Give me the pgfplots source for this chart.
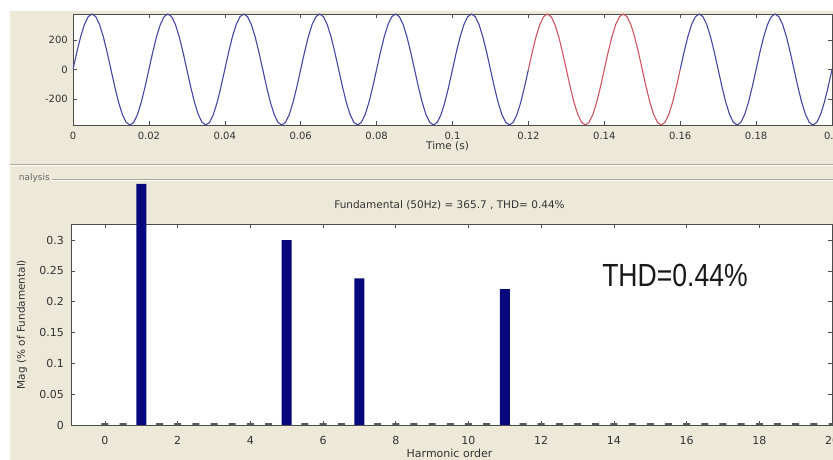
\documentclass[border=0pt]{standalone}
\usepackage{pgfplots}
\pgfplotsset{compat=1.18}
\usepackage{pgfplotstable}
\usepackage{graphicx}
\usepackage{fontspec}
\setmainfont{DejaVu Sans}
\newfontfamily\arial{Liberation Sans}
\definecolor{panel}{RGB}{236,233,216}
\definecolor{etch}{RGB}{172,168,153}
\definecolor{wblue}{RGB}{70,70,165}
\definecolor{wred}{RGB}{205,85,95}
\definecolor{barblue}{RGB}{8,8,125}

\pgfplotstableread[row sep=\\]{
t v\\
0 0\\ 0.001 116.8\\ 0.002 222.2\\ 0.003 305.8\\ 0.004 359.5\\ 0.005 378\\ 0.006 359.5\\ 0.007 305.8\\ 0.008 222.2\\ 0.009 116.8\\ 0.010 0\\ 0.011 -116.8\\ 0.012 -222.2\\ 0.013 -305.8\\ 0.014 -359.5\\ 0.015 -378\\ 0.016 -359.5\\ 0.017 -305.8\\ 0.018 -222.2\\ 0.019 -116.8\\
0.020 0\\ 0.021 116.8\\ 0.022 222.2\\ 0.023 305.8\\ 0.024 359.5\\ 0.025 378\\ 0.026 359.5\\ 0.027 305.8\\ 0.028 222.2\\ 0.029 116.8\\ 0.030 0\\ 0.031 -116.8\\ 0.032 -222.2\\ 0.033 -305.8\\ 0.034 -359.5\\ 0.035 -378\\ 0.036 -359.5\\ 0.037 -305.8\\ 0.038 -222.2\\ 0.039 -116.8\\
0.040 0\\ 0.041 116.8\\ 0.042 222.2\\ 0.043 305.8\\ 0.044 359.5\\ 0.045 378\\ 0.046 359.5\\ 0.047 305.8\\ 0.048 222.2\\ 0.049 116.8\\ 0.050 0\\ 0.051 -116.8\\ 0.052 -222.2\\ 0.053 -305.8\\ 0.054 -359.5\\ 0.055 -378\\ 0.056 -359.5\\ 0.057 -305.8\\ 0.058 -222.2\\ 0.059 -116.8\\
0.060 0\\ 0.061 116.8\\ 0.062 222.2\\ 0.063 305.8\\ 0.064 359.5\\ 0.065 378\\ 0.066 359.5\\ 0.067 305.8\\ 0.068 222.2\\ 0.069 116.8\\ 0.070 0\\ 0.071 -116.8\\ 0.072 -222.2\\ 0.073 -305.8\\ 0.074 -359.5\\ 0.075 -378\\ 0.076 -359.5\\ 0.077 -305.8\\ 0.078 -222.2\\ 0.079 -116.8\\
0.080 0\\ 0.081 116.8\\ 0.082 222.2\\ 0.083 305.8\\ 0.084 359.5\\ 0.085 378\\ 0.086 359.5\\ 0.087 305.8\\ 0.088 222.2\\ 0.089 116.8\\ 0.090 0\\ 0.091 -116.8\\ 0.092 -222.2\\ 0.093 -305.8\\ 0.094 -359.5\\ 0.095 -378\\ 0.096 -359.5\\ 0.097 -305.8\\ 0.098 -222.2\\ 0.099 -116.8\\
0.100 0\\ 0.101 116.8\\ 0.102 222.2\\ 0.103 305.8\\ 0.104 359.5\\ 0.105 378\\ 0.106 359.5\\ 0.107 305.8\\ 0.108 222.2\\ 0.109 116.8\\ 0.110 0\\ 0.111 -116.8\\ 0.112 -222.2\\ 0.113 -305.8\\ 0.114 -359.5\\ 0.115 -378\\ 0.116 -359.5\\ 0.117 -305.8\\ 0.118 -222.2\\ 0.119 -116.8\\
0.120 0\\ 0.121 116.8\\ 0.122 222.2\\ 0.123 305.8\\ 0.124 359.5\\ 0.125 378\\ 0.126 359.5\\ 0.127 305.8\\ 0.128 222.2\\ 0.129 116.8\\ 0.130 0\\ 0.131 -116.8\\ 0.132 -222.2\\ 0.133 -305.8\\ 0.134 -359.5\\ 0.135 -378\\ 0.136 -359.5\\ 0.137 -305.8\\ 0.138 -222.2\\ 0.139 -116.8\\
0.140 0\\ 0.141 116.8\\ 0.142 222.2\\ 0.143 305.8\\ 0.144 359.5\\ 0.145 378\\ 0.146 359.5\\ 0.147 305.8\\ 0.148 222.2\\ 0.149 116.8\\ 0.150 0\\ 0.151 -116.8\\ 0.152 -222.2\\ 0.153 -305.8\\ 0.154 -359.5\\ 0.155 -378\\ 0.156 -359.5\\ 0.157 -305.8\\ 0.158 -222.2\\ 0.159 -116.8\\
0.160 0\\ 0.161 116.8\\ 0.162 222.2\\ 0.163 305.8\\ 0.164 359.5\\ 0.165 378\\ 0.166 359.5\\ 0.167 305.8\\ 0.168 222.2\\ 0.169 116.8\\ 0.170 0\\ 0.171 -116.8\\ 0.172 -222.2\\ 0.173 -305.8\\ 0.174 -359.5\\ 0.175 -378\\ 0.176 -359.5\\ 0.177 -305.8\\ 0.178 -222.2\\ 0.179 -116.8\\
0.180 0\\ 0.181 116.8\\ 0.182 222.2\\ 0.183 305.8\\ 0.184 359.5\\ 0.185 378\\ 0.186 359.5\\ 0.187 305.8\\ 0.188 222.2\\ 0.189 116.8\\ 0.190 0\\ 0.191 -116.8\\ 0.192 -222.2\\ 0.193 -305.8\\ 0.194 -359.5\\ 0.195 -378\\ 0.196 -359.5\\ 0.197 -305.8\\ 0.198 -222.2\\ 0.199 -116.8\\
0.200 0\\
}\wave

\pgfplotstableread[row sep=\\]{
h m\\
1 0.391\\ 5 0.300\\ 7 0.238\\ 11 0.2205\\
}\harm

\pgfplotstableread[row sep=\\]{
h m\\
0 0.003\\ 0.5 0.003\\ 1.5 0.003\\ 2 0.003\\ 2.5 0.003\\ 3 0.003\\ 3.5 0.003\\ 4 0.003\\ 4.5 0.003\\ 5.5 0.003\\ 6 0.003\\ 6.5 0.003\\ 7.5 0.003\\ 8 0.003\\ 8.5 0.003\\ 9 0.003\\ 9.5 0.003\\ 10 0.003\\ 10.5 0.003\\ 11.5 0.003\\ 12 0.003\\ 12.5 0.003\\ 13 0.003\\ 13.5 0.003\\ 14 0.003\\ 14.5 0.003\\ 15 0.003\\ 15.5 0.003\\ 16 0.003\\ 16.5 0.003\\ 17 0.003\\ 17.5 0.003\\ 18 0.003\\ 18.5 0.003\\ 19 0.003\\ 19.5 0.003\\ 20 0.003\\
}\small

\begin{document}
\begin{tikzpicture}[x=1pt,y=1pt]
\useasboundingbox (0,0) rectangle (833,460);
\clip (0,0) rectangle (833,460);
\fill[white] (0,0) rectangle (833,460);
\fill[panel] (10,0) rectangle (833,449);
\draw[etch, line width=0.8pt] (10,295.5) -- (833,295.5);
\draw[white, line width=0.8pt] (10,294.5) -- (833,294.5);
\draw[etch, line width=0.8pt] (52,281) -- (833,281);
\draw[white, line width=0.8pt] (52,280) -- (833,280);
\node[anchor=east, inner sep=0pt, text=black!60, font=\fontsize{9}{10}\selectfont] at (50,281.5) {nalysis};

\begin{axis}[
  at={(73pt,335pt)}, anchor=south west,
  scale only axis, width=759pt, height=111pt,
  xmin=0, xmax=0.2, ymin=-378, ymax=378,
  axis background/.style={fill=white},
  axis line style={black!70, line width=0.7pt},
  tick style={black!70, line width=0.6pt},
  major tick length=4pt,
  tick label style={font=\fontsize{10}{12}\selectfont, text=black!80},
  xtick={0,0.02,0.04,0.06,0.08,0.1,0.12,0.14,0.16,0.18,0.2},
  xticklabels={0,0.02,0.04,0.06,0.08,0.1,0.12,0.14,0.16,0.18,0.2},
  xticklabel style={anchor=center, yshift=-11pt},
  ytick={-200,0,200},
  yticklabels={-200,0,200},
  yticklabel style={xshift=-1.7pt},
  xlabel={Time (s)},
  xlabel style={at={([yshift=-21pt,xshift=-5pt]axis description cs:0.5,0)}, anchor=center, font=\fontsize{10.5}{12}\selectfont, text=black!80},
]
\addplot[wblue, line width=1.1pt, restrict x to domain=0:0.12] table[x=t,y=v]{\wave};
\addplot[wblue, line width=1.1pt, restrict x to domain=0.16:0.2] table[x=t,y=v]{\wave};
\addplot[wred, line width=1.1pt, restrict x to domain=0.12:0.16] table[x=t,y=v]{\wave};
\end{axis}

\begin{axis}[
  at={(71pt,35pt)}, anchor=south west,
  scale only axis, width=761pt, height=201pt,
  xmin=-0.935, xmax=20, ymin=0, ymax=0.326,
  clip=false,
  axis background/.style={fill=white},
  axis line style={black!70, line width=0.7pt},
  tick style={black!70, line width=0.6pt},
  major tick length=4pt,
  tick label style={font=\fontsize{11}{13}\selectfont, text=black!80},
  xtick={0,2,4,6,8,10,12,14,16,18,20},
  xticklabels={0,2,4,6,8,10,12,14,16,18,20},
  xticklabel style={anchor=center, yshift=-15pt},
  ytick={0,0.05,0.1,0.15,0.2,0.25,0.3},
  yticklabels={0,0.05,0.1,0.15,0.2,0.25,0.3},
  yticklabel style={xshift=-3.7pt},
  xlabel={Harmonic order},
  xlabel style={at={([yshift=-28pt,xshift=-2pt]axis description cs:0.5,0)}, anchor=center, font=\fontsize{11}{13}\selectfont, text=black!80},
  ylabel={Mag (\% of Fundamental)},
  ylabel style={at={([xshift=-49pt]axis description cs:0,0.5)}, anchor=center, font=\fontsize{10.5}{12}\selectfont, text=black!80},
  title={Fundamental (50Hz) = 365.7 , THD= 0.44\%},
  title style={at={([yshift=13pt,xshift=-2pt]axis description cs:0.5,1)}, anchor=center, font=\fontsize{10.5}{12}\selectfont, text=black!80},
]
\addplot[ybar, bar width=7pt, bar shift=0pt, fill=black!65, draw=none] table[x=h,y=m]{\small};
\addplot[ybar, bar width=10pt, bar shift=0pt, fill=barblue, draw=none] table[x=h,y=m]{\harm};
\node[font=\arial\fontsize{32}{34}\selectfont, text=black!90] at (axis cs:15.68,0.243) {\scalebox{0.83}[1]{THD=0.44\%}};
\end{axis}
\end{tikzpicture}
\end{document}
